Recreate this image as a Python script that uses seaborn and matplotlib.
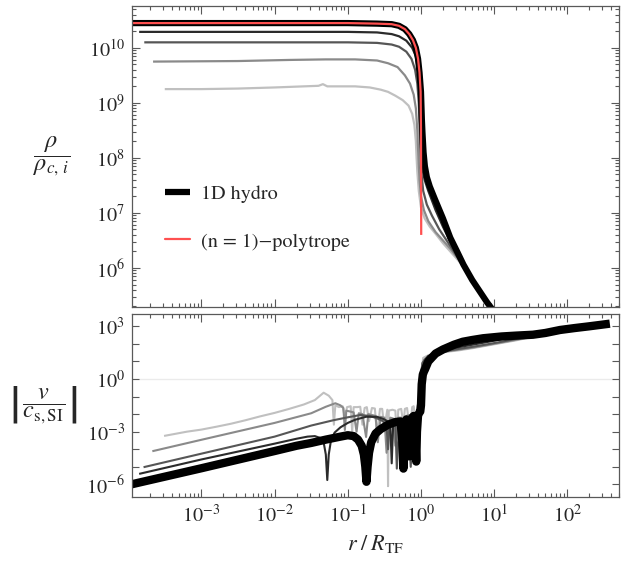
import numpy as np
import matplotlib
matplotlib.use('Agg')
import matplotlib.pyplot as plt
import seaborn as sns
from matplotlib.lines import Line2D
from matplotlib.ticker import LogLocator, FixedLocator, LogFormatterMathtext, NullFormatter

# ---- data (log10 values) ----
# top panel: density rho / rho_c,i
hydro_rho_logr = [-3.95, -2.0, -1.0, -0.6, -0.4, -0.3, -0.22, -0.16, -0.11, -0.07, -0.04, -0.02,
                  0.0, 0.012, 0.02, 0.035, 0.053, 0.08, 0.12, 0.19, 0.3, 0.4, 0.5, 0.58, 0.7,
                  0.81, 0.9, 1.0]
hydro_rho_log = [10.45, 10.45, 10.45, 10.44, 10.43, 10.40, 10.34, 10.25, 10.14, 10.0, 9.8, 9.55,
                 9.2, 8.7, 8.46, 8.1, 7.85, 7.65, 7.48, 7.25, 6.9, 6.55, 6.28, 6.06, 5.78,
                 5.56, 5.38, 5.2]

poly_logr = [-3.95, -2.0, -1.0, -0.6, -0.4, -0.3, -0.22, -0.16, -0.11, -0.07, -0.04, -0.02,
             -0.005, 0.0, 0.003]
poly_log = [10.45, 10.45, 10.45, 10.44, 10.43, 10.40, 10.34, 10.25, 10.14, 10.0, 9.8, 9.55,
            9.2, 8.5, 6.6]

g1_rho_logr = [-3.85, -1.0, -0.6, -0.4, -0.3, -0.2, -0.12, -0.07, -0.04, -0.02, -0.01, 0.0,
               0.02, 0.05, 0.1, 0.2, 0.3, 0.4, 0.5, 0.58]
g1_rho_log = [10.29, 10.29, 10.28, 10.25, 10.21, 10.13, 10.0, 9.85, 9.6, 9.2, 8.7, 8.2,
              7.8, 7.6, 7.4, 7.05, 6.75, 6.48, 6.25, 6.05]

g2_rho_logr = [-3.78, -1.0, -0.6, -0.4, -0.3, -0.2, -0.13, -0.08, -0.05, -0.03, -0.015, 0.0,
               0.03, 0.08, 0.15, 0.25, 0.35, 0.45, 0.58]
g2_rho_log = [10.10, 10.10, 10.09, 10.06, 10.02, 9.93, 9.8, 9.6, 9.35, 9.0, 8.4, 7.8,
              7.4, 7.15, 6.95, 6.7, 6.5, 6.3, 6.03]

g3_rho_logr = [-3.66, -2.5, -1.8, -1.3, -0.9, -0.6, -0.45, -0.32, -0.22, -0.15, -0.1, -0.07,
               -0.05, -0.035, -0.02, 0.0, 0.04, 0.1, 0.2, 0.3, 0.4, 0.5, 0.58]
g3_rho_log = [9.75, 9.76, 9.78, 9.79, 9.79, 9.77, 9.72, 9.65, 9.5, 9.35, 9.15, 8.9,
              8.5, 8.0, 7.6, 7.3, 7.05, 6.85, 6.65, 6.5, 6.35, 6.18, 6.04]

g4_rho_logr = [-3.5, -3.0, -2.5, -2.0, -1.6, -1.4, -1.34, -1.28, -1.1, -0.9, -0.7, -0.55,
               -0.45, -0.35, -0.25, -0.17, -0.12, -0.09, -0.07, -0.06, -0.05, -0.03, 0.0,
               0.05, 0.12, 0.2, 0.3, 0.4, 0.5, 0.58]
g4_rho_log = [9.25, 9.25, 9.26, 9.28, 9.30, 9.31, 9.34, 9.30, 9.30, 9.30, 9.28, 9.24,
              9.2, 9.13, 9.05, 8.95, 8.8, 8.6, 8.3, 8.0, 7.75, 7.4, 7.1,
              6.9, 6.75, 6.62, 6.45, 6.3, 6.15, 6.03]

# bottom panel: |v / c_s,SI|
hydro_v_logr = [-3.96, -3.0, -2.0, -1.7, -1.5, -1.3, -1.1, -1.0, -0.92, -0.86, -0.81, -0.78,
                -0.76, -0.745, -0.73, -0.71, -0.68, -0.62, -0.55, -0.45, -0.35, -0.28, -0.255,
                -0.24, -0.225, -0.2, -0.175, -0.16, -0.15, -0.14, -0.12, -0.1, -0.08, -0.065,
                -0.055, -0.04, -0.02, -0.01, 0.0, 0.01, 0.025, 0.04, 0.055, 0.1, 0.2, 0.3,
                0.45, 0.57, 0.7, 0.85, 1.1, 1.3, 1.53, 1.7, 1.9, 2.1, 2.3, 2.45, 2.58]
hydro_v_log = [-6.0, -5.08, -4.1, -3.8, -3.64, -3.45, -3.28, -3.2, -3.25, -3.45, -3.8, -4.3,
               -5.0, -5.85, -5.0, -4.2, -3.6, -3.1, -2.85, -2.6, -2.45, -2.42, -3.5,
               -5.1, -3.4, -2.3, -2.35, -3.4, -4.4, -3.2, -2.2, -2.1, -3.0, -4.7,
               -3.0, -2.05, -1.9, -1.85, -1.5, -0.3, 0.25, 0.42, 0.55, 1.0, 1.45, 1.68,
               1.95, 2.12, 2.22, 2.32, 2.42, 2.47, 2.52, 2.62, 2.79, 2.9, 3.0, 3.08, 3.15]

g1_v_logr = [-3.85, -3.0, -2.0, -1.7, -1.55, -1.45, -1.38, -1.33, -1.3, -1.28, -1.26, -1.23,
             -1.18, -1.1, -1.0, -0.9, -0.75, -0.6, -0.5, -0.42, -0.4, -0.38, -0.33, -0.3,
             -0.28, -0.25, -0.2, -0.18, -0.16, -0.12, -0.08, -0.06, -0.04, -0.02, -0.01,
             0.0, 0.02, 0.05, 0.1, 0.2, 0.3, 0.5, 0.7, 0.9, 1.2, 1.5, 1.8, 2.1]
g1_v_log = [-5.4, -4.58, -3.68, -3.4, -3.28, -3.25, -3.35, -3.6, -4.3, -5.75, -4.3, -3.5,
            -3.05, -2.75, -2.5, -2.32, -2.15, -2.15, -2.3, -2.5, -4.8, -2.6, -2.45, -2.5,
            -4.9, -2.5, -2.35, -4.6, -2.4, -2.2, -2.1, -4.2, -2.0, -1.9, -1.6,
            -0.8, 0.6, 1.0, 1.3, 1.5, 1.6, 1.8, 1.95, 2.1, 2.35, 2.45, 2.65, 2.85]

g2_v_logr = [-3.79, -3.0, -2.0, -1.5, -1.2, -1.0, -0.83, -0.7, -0.6, -0.52, -0.47, -0.45,
             -0.43, -0.38, -0.35, -0.33, -0.3, -0.26, -0.23, -0.21, -0.18, -0.14, -0.11,
             -0.09, -0.06, -0.04, -0.025, -0.015, 0.0, 0.02, 0.05, 0.1, 0.2, 0.35, 0.5,
             0.7, 0.9, 1.1, 1.3, 1.5, 1.7, 1.9, 2.1]
g2_v_log = [-5.02, -4.25, -3.28, -2.65, -2.35, -2.18, -2.05, -2.1, -2.24, -2.4, -2.7, -4.0,
            -2.6, -2.35, -2.5, -5.1, -2.5, -2.3, -3.8, -2.3, -2.2, -5.0, -2.2,
            -2.1, -3.5, -2.0, -1.85, -1.2, 0.3, 0.9, 1.1, 1.3, 1.48, 1.6, 1.7,
            1.83, 1.97, 2.12, 2.28, 2.44, 2.6, 2.76, 2.9]

g3_v_logr = [-3.67, -3.0, -2.0, -1.5, -1.3, -1.17, -1.1, -1.06, -1.04, -1.02, -0.97, -0.92,
             -0.88, -0.85, -0.8, -0.75, -0.72, -0.67, -0.62, -0.59, -0.55, -0.5, -0.47,
             -0.42, -0.38, -0.35, -0.31, -0.27, -0.24, -0.2, -0.16, -0.13, -0.1, -0.07,
             -0.04, -0.025, -0.01, 0.0, 0.02, 0.05, 0.1, 0.2, 0.35, 0.5, 0.7, 0.9, 1.1,
             1.3, 1.5, 1.7, 1.9, 2.1]
g3_v_log = [-4.11, -3.46, -2.5, -1.95, -1.58, -1.38, -1.5, -1.65, -2.9, -1.8, -1.85, -1.9,
            -3.0, -1.95, -2.0, -3.3, -2.0, -2.05, -2.1, -3.6, -2.15, -2.2, -4.2,
            -2.2, -2.25, -3.8, -2.2, -2.2, -4.4, -2.1, -2.05, -3.6, -2.0, -1.9,
            -3.0, -1.6, -1.0, 0.0, 0.9, 1.1, 1.3, 1.46, 1.57, 1.66, 1.78, 1.93, 2.08,
            2.23, 2.4, 2.57, 2.73, 2.88]

g4_v_logr = [-3.51, -3.2, -3.0, -2.8, -2.6, -2.4, -2.2, -2.0, -1.8, -1.6, -1.45, -1.33,
             -1.26, -1.21, -1.19, -1.17, -1.12, -1.07, -1.04, -1.01, -0.96, -0.94, -0.92,
             -0.87, -0.83, -0.8, -0.77, -0.74, -0.71, -0.67, -0.63, -0.6, -0.56, -0.53,
             -0.5, -0.46, -0.45, -0.44, -0.39, -0.35, -0.33, -0.31, -0.27, -0.24, -0.22,
             -0.19, -0.15, -0.12, -0.1, -0.07, -0.05, -0.03, -0.02, 0.0, 0.03, 0.1, 0.2,
             0.35, 0.5, 0.7, 0.9, 1.1, 1.3, 1.5, 1.7, 1.9, 2.1]
g4_v_log = [-3.24, -3.0, -2.88, -2.72, -2.55, -2.35, -2.13, -1.93, -1.7, -1.45, -1.2, -0.78,
            -0.95, -1.2, -2.6, -1.5, -1.6, -1.55, -2.2, -1.6, -1.55, -3.0, -1.6,
            -1.6, -1.58, -2.6, -1.65, -1.6, -2.4, -1.65, -1.68, -3.2, -1.7, -1.7,
            -2.8, -1.75, -6.1, -1.8, -1.75, -1.8, -3.4, -1.75, -1.7, -2.6, -1.7,
            -1.65, -3.0, -1.6, -1.55, -2.5, -1.5, -1.4, -1.2, 0.2, 1.2, 1.35, 1.45,
            1.55, 1.62, 1.75, 1.9, 2.05, 2.2, 2.38, 2.55, 2.72, 2.88]

gray_levels = ['#2b2b2b', '#565656', '#8a8a8a', '#c0c0c0']
poly_color = '#ff5050'

# ---- style ----
sns.set_style('ticks')
plt.rcParams['font.family'] = ['STIXGeneral', 'DejaVu Serif']
plt.rcParams['mathtext.fontset'] = 'stix'
FS = 14.5

fig = plt.figure(figsize=(6.27, 5.68), dpi=100)
ax1 = fig.add_axes([0.2105, 0.4595, 0.7772, 0.5299])
ax2 = fig.add_axes([0.2105, 0.1255, 0.7772, 0.3217])


def curve(ax, logr, logy, color, lw):
    sns.lineplot(x=10.0 ** np.asarray(logr), y=10.0 ** np.asarray(logy), ax=ax,
                 color=color, linewidth=lw, sort=False, estimator=None,
                 solid_capstyle='butt', solid_joinstyle='round')


top_grays = [(g4_rho_logr, g4_rho_log), (g3_rho_logr, g3_rho_log),
             (g2_rho_logr, g2_rho_log), (g1_rho_logr, g1_rho_log)]
for (lr, ly), c in zip(top_grays, gray_levels[::-1]):
    curve(ax1, lr, ly, c, 1.6)
curve(ax1, hydro_rho_logr, hydro_rho_log, 'black', 4.5)
curve(ax1, poly_logr, poly_log, poly_color, 1.6)

ax2.axhline(1.0, color='0.92', lw=1.0, zorder=0)
bot_grays = [(g4_v_logr, g4_v_log), (g3_v_logr, g3_v_log),
             (g2_v_logr, g2_v_log), (g1_v_logr, g1_v_log)]
for (lr, ly), c in zip(bot_grays, gray_levels[::-1]):
    curve(ax2, lr, ly, c, 1.5)
curve(ax2, hydro_v_logr, hydro_v_log, 'black', 6.0)

xlim = (10 ** -3.948, 10 ** 2.709)
for ax in (ax1, ax2):
    ax.set_xscale('log')
    ax.set_yscale('log')
    ax.set_xlim(*xlim)
    ax.xaxis.set_major_locator(LogLocator(base=10, numticks=20))
    ax.xaxis.set_minor_locator(LogLocator(base=10, subs=np.arange(2, 10), numticks=20))
    ax.tick_params(which='both', direction='in', top=True, right=True,
                   color='0.35', width=0.8, labelsize=FS, pad=5)
    ax.tick_params(which='major', length=6)
    ax.tick_params(which='minor', length=3)
    for s in ax.spines.values():
        s.set_color('0.35')
        s.set_linewidth(0.9)
    ax.set_xlabel('')
    ax.set_ylabel('')

ax1.set_ylim(10 ** 5.29, 10 ** 10.76)
ax1.yaxis.set_major_locator(LogLocator(base=10, numticks=20))
ax1.yaxis.set_minor_locator(LogLocator(base=10, subs=np.arange(2, 10), numticks=20))
ax1.tick_params(axis='x', labelbottom=False)

ax2.set_ylim(10 ** -6.70, 10 ** 3.70)
ax2.yaxis.set_major_locator(FixedLocator([1e-6, 1e-3, 1e0, 1e3]))
ax2.yaxis.set_minor_locator(FixedLocator([1e-5, 1e-4, 1e-2, 1e-1, 1e1, 1e2]))
ax2.yaxis.set_major_formatter(LogFormatterMathtext())
ax2.yaxis.set_minor_formatter(NullFormatter())
ax2.tick_params(axis='y', which='both', length=5)

ax1.set_ylabel(r'$\dfrac{\rho}{\rho_{c,\,i}}$', rotation=0, fontsize=17.5, va='center')
ax1.yaxis.set_label_coords(-0.164, 0.5)
ax2.set_ylabel(r'$\left|\,\dfrac{v}{c_{\mathrm{s,SI}}}\,\right|$', rotation=0, fontsize=17.5, va='center')
ax2.yaxis.set_label_coords(-0.181, 0.5)
ax2.set_xlabel(r'$r\;/\;R_{\mathrm{TF}}$', fontsize=FS + 1.5, labelpad=5)

handles = [Line2D([], [], color='black', lw=4.5, solid_capstyle='butt'),
           Line2D([], [], color=poly_color, lw=1.6)]
ax1.legend(handles, ['1D hydro', '(n = 1)\u2212polytrope'], loc='upper left',
           bbox_to_anchor=(0.068, 0.405), frameon=False, fontsize=FS,
           handlelength=1.25, handletextpad=0.55, labelspacing=1.45,
           borderpad=0, borderaxespad=0)

fig.savefig('out.png', dpi=100)
